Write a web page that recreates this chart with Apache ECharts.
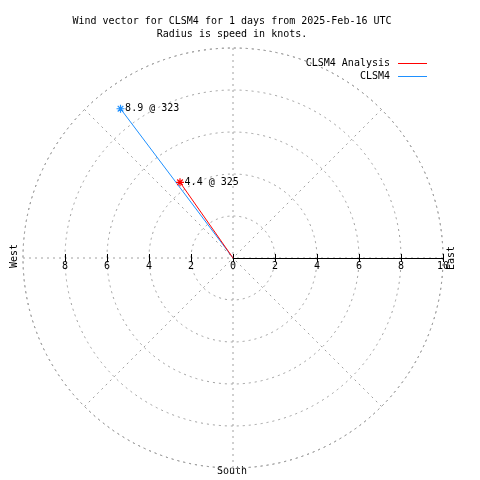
<!DOCTYPE html>
<html><head><meta charset="utf-8">
<script src="https://cdn.jsdelivr.net/npm/echarts@6/dist/echarts.min.js"></script>
<style>html,body{margin:0;padding:0;background:#fff}#c{width:480px;height:480px}</style>
</head><body><div id="c"></div>
<script>
const titleLines = ['Wind vector for CLSM4 for 1 days from 2025-Feb-16 UTC', 'Radius is speed in knots.'];
const seriesNames = ['CLSM4 Analysis', 'CLSM4'];
const speeds = [4.4, 8.9];       // knots
const directions = [325, 323];   // degrees
const seriesColors = ['#ff0000', '#1e90ff'];
const rightTicks = [0, 2, 4, 6, 8, 10];
const leftTicks = [-8, -6, -4, -2, 0];

const FONT = 'DejaVu Sans Mono';
const CX = 233, CY = 258, R = 210;
const PXU = R / 10;
const DASH = [2, 4];
const star = 'path://M5,0L5,10M0,5L10,5M1.5,1.5L8.5,8.5M8.5,1.5L1.5,8.5';

const chart = echarts.init(document.getElementById('c'));

function mkGrid(left, width) {
  return { left: left, width: width, top: CY - 10, height: 10, containLabel: false };
}
function mkX(gridIndex, min, max, opts) {
  return Object.assign({
    type: 'value', gridIndex: gridIndex, min: min, max: max, interval: 2,
    position: 'bottom',
    splitLine: { show: false },
    axisLine: { show: false },
    axisTick: { show: false },
    axisLabel: { show: false }
  }, opts);
}

const series = seriesNames.map((name, i) => ({
  name: name,
  type: 'line',
  coordinateSystem: 'polar',
  data: [[0, directions[i]], [speeds[i], directions[i]]],
  lineStyle: { color: seriesColors[i], width: 1 },
  itemStyle: { color: seriesColors[i], borderColor: seriesColors[i], borderWidth: 1.2 },
  symbol: star,
  symbolSize: (v, p) => p.dataIndex === 1 ? 8 : 0,
  showSymbol: true,
  animation: false,
  z: 10 - i,
  label: {
    show: true, position: 'right', distance: 0,
    fontFamily: FONT, fontSize: 10, color: '#000',
    formatter: p => p.dataIndex === 1 ? speeds[i].toFixed(1) + ' @ ' + directions[i] : ''
  }
}));
series.push({ type: 'line', xAxisIndex: 0, yAxisIndex: 0, data: [], silent: true });

const legendText = { fontFamily: FONT, fontSize: 10, color: '#000', lineHeight: 13, padding: [0, 3, 0, 0] };
const option = {
  animation: false,
  backgroundColor: '#fff',
  title: {
    text: titleLines.join('\n'),
    left: 227, top: 10, textAlign: 'center',
    textStyle: { fontFamily: FONT, fontSize: 10, fontWeight: 'normal', color: '#000', lineHeight: 13 }
  },
  legend: [
    { data: [seriesNames[0]], right: 48, top: 52, orient: 'vertical', align: 'right',
      icon: 'rect', itemWidth: 29, itemHeight: 1, itemStyle: { borderWidth: 0 }, textStyle: legendText },
    { data: [seriesNames[1]], right: 48, top: 65, orient: 'vertical', align: 'right',
      icon: 'rect', itemWidth: 29, itemHeight: 1, itemStyle: { borderWidth: 0 }, textStyle: legendText }
  ],
  polar: { center: [CX, CY], radius: R },
  angleAxis: {
    type: 'value', min: 0, max: 360, interval: 45, startAngle: 90, clockwise: true,
    axisLine: { show: true, lineStyle: { color: '#a0a0a0', type: DASH, width: 1 } },
    axisTick: { show: false }, axisLabel: { show: false },
    splitLine: { show: true, lineStyle: { color: '#a0a0a0', type: DASH, width: 1 } }
  },
  radiusAxis: {
    type: 'value', min: 0, max: 10, interval: 2,
    axisLine: { show: false }, axisTick: { show: false }, axisLabel: { show: false },
    splitLine: { show: true, lineStyle: { color: '#a0a0a0', type: DASH, width: 1 } }
  },
  grid: [mkGrid(CX, R), mkGrid(CX - 8 * PXU, 8 * PXU)],
  xAxis: [
    mkX(0, rightTicks[0], rightTicks[rightTicks.length - 1], {
      axisLine: { show: true, lineStyle: { color: '#000', width: 1 } },
      axisTick: { show: true, length: 4, lineStyle: { color: '#000' } },
      axisLabel: { show: true, margin: 3, fontFamily: FONT, fontSize: 10, color: '#000', showMinLabel: true, showMaxLabel: true }
    }),
    mkX(0, rightTicks[0], rightTicks[rightTicks.length - 1], { axisTick: { show: true, inside: true, length: 4, lineStyle: { color: '#000' } } }),
    mkX(1, leftTicks[0], leftTicks[leftTicks.length - 1], {
      axisTick: { show: true, length: 4, lineStyle: { color: '#000' } },
      axisLabel: { show: true, margin: 3, fontFamily: FONT, fontSize: 10, color: '#000', showMinLabel: true,
        formatter: v => v === 0 ? '' : String(Math.abs(v)) }
    }),
    mkX(1, leftTicks[0], leftTicks[leftTicks.length - 1], { axisTick: { show: true, inside: true, length: 4, lineStyle: { color: '#000' } } })
  ],
  yAxis: [
    { type: 'value', gridIndex: 0, show: false },
    { type: 'value', gridIndex: 1, show: false }
  ],
  graphic: [
    { type: 'text', x: 14, y: 256, rotation: Math.PI / 2,
      style: { text: 'West', font: '10px ' + FONT, fill: '#000', textAlign: 'center', textVerticalAlign: 'middle' } },
    { type: 'text', x: 451, y: 258, rotation: Math.PI / 2,
      style: { text: 'East', font: '10px ' + FONT, fill: '#000', textAlign: 'center', textVerticalAlign: 'middle' } },
    { type: 'text', x: 232, y: 471,
      style: { text: 'South', font: '10px ' + FONT, fill: '#000', textAlign: 'center', textVerticalAlign: 'middle' } }
  ],
  series: series
};
chart.setOption(option);
</script></body></html>
